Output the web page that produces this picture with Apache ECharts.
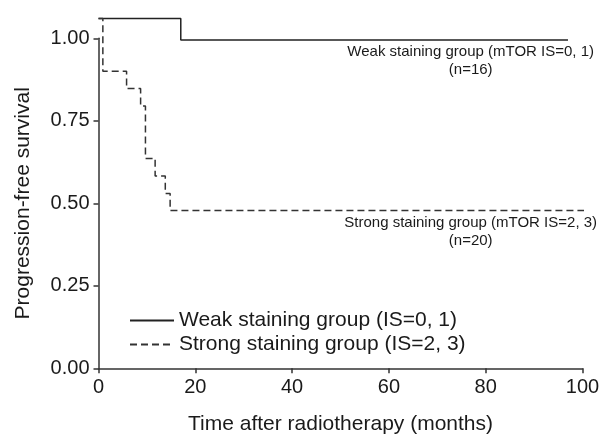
<!DOCTYPE html>
<html>
<head>
<meta charset="utf-8">
<script src="https://cdn.jsdelivr.net/npm/echarts@6/dist/echarts.min.js"></script>
<style>html,body{margin:0;padding:0;background:#fff;}#c{width:612px;height:437px;}</style>
</head>
<body>
<div id="c"></div>
<script>
// Kaplan-Meier steps: [months, survival]
var weakTimes = [0, 17, 97];
var weakSurv = [1.06, 0.995, 0.995];
var strongTimes = [0, 0.9, 5.8, 8.7, 9.7, 11.7, 13.8, 14.8, 102];
var strongSurv = [1.06, 0.90, 0.848, 0.795, 0.636, 0.583, 0.530, 0.478, 0.478];
var xTicks = [0, 20, 40, 60, 80, 100];
var yTicks = [0, 0.25, 0.5, 0.75, 1.0];
var legendNames = ['Weak staining group (IS=0, 1)', 'Strong staining group (IS=2, 3)'];
var annotWeak = 'Weak staining group (mTOR IS=0, 1)\n(n=16)';
var annotStrong = 'Strong staining group (mTOR IS=2, 3)\n(n=20)';

function pairs(xs, ys) { return xs.map(function (x, i) { return [x, ys[i]]; }); }

var FONT = 'Liberation Sans, Arial, sans-serif';
var INK = '#1a1a1a';
var chart = echarts.init(document.getElementById('c'), null, { renderer: 'canvas' });
chart.setOption({
  animation: false,
  backgroundColor: '#fff',
  grid: { left: 98.5, right: 29.5, top: 38.3, bottom: 68.7, containLabel: false, outerBoundsMode: 'none' },
  xAxis: {
    type: 'value', min: 0, max: 100, interval: 20,
    name: 'Time after radiotherapy (months)', nameLocation: 'middle', nameGap: 45,
    nameTextStyle: { fontFamily: FONT, fontSize: 21, color: INK },
    axisLine: { show: true, lineStyle: { color: '#333', width: 1.5 } },
    axisTick: { show: true, inside: false, length: 5, lineStyle: { color: '#333', width: 1.5 } },
    axisLabel: { fontFamily: FONT, fontSize: 20, color: INK, margin: 9 },
    splitLine: { show: false }
  },
  yAxis: {
    type: 'value', min: 0, max: 1, interval: 0.25,
    name: 'Progression-free survival', nameLocation: 'middle', nameGap: 65,
    nameTextStyle: { fontFamily: FONT, fontSize: 21, color: INK },
    axisLine: { show: true, lineStyle: { color: '#333', width: 1.5 } },
    axisTick: { show: true, inside: false, length: 5, lineStyle: { color: '#333', width: 1.5 } },
    axisLabel: { fontFamily: FONT, fontSize: 20, color: INK, margin: 9,
      formatter: function (v) { return v.toFixed(2); } },
    splitLine: { show: false }
  },
  legend: {
    orient: 'vertical', left: 124, top: 305, itemWidth: 44, itemHeight: 14, itemGap: 3,
    itemStyle: { opacity: 0 },
    textStyle: { fontFamily: FONT, fontSize: 21, color: INK, padding: [0, 0, 0, 0] },
    data: legendNames
  },
  series: [
    {
      name: legendNames[0], type: 'line', step: 'end', symbol: 'none', clip: false,
      data: pairs(weakTimes, weakSurv),
      lineStyle: { color: '#222', width: 1.5, type: 'solid' },
      itemStyle: { color: '#222' }
    },
    {
      name: legendNames[1], type: 'line', step: 'end', symbol: 'none', clip: false,
      data: pairs(strongTimes, strongSurv),
      lineStyle: { color: '#333', width: 1.5, type: [7, 4] },
      itemStyle: { color: '#333' }
    }
  ]
});

// annotations anchored to data coordinates
var pW = chart.convertToPixel({ gridIndex: 0 }, [77, weakSurv[weakSurv.length - 1]]);
var pS = chart.convertToPixel({ gridIndex: 0 }, [77, strongSurv[strongSurv.length - 1]]);
chart.setOption({
  graphic: [
    { type: 'text', x: pW[0] - 0.5, y: pW[1] + 3, style: { text: annotWeak, fontFamily: FONT, fontSize: 15, fill: INK, align: 'center', verticalAlign: 'top', lineHeight: 18 } },
    { type: 'text', x: pS[0] - 0.5, y: pS[1] + 3, style: { text: annotStrong, fontFamily: FONT, fontSize: 15, fill: INK, align: 'center', verticalAlign: 'top', lineHeight: 18 } }
  ]
});
</script>
</body>
</html>
